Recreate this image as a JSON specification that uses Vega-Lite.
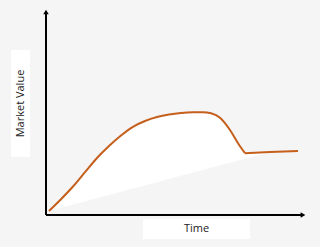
{
  "$schema": "https://vega.github.io/schema/vega-lite/v6.json",
  "autosize": "none",
  "width": 262,
  "height": 207,
  "padding": {"left": 46, "top": 8, "right": 12, "bottom": 32},
  "background": "#f5f5f5",
  "config": {"view": {"stroke": null}},
  "datasets": {
    "curve": [
      {"t": 3, "v": 4, "seg": "A"},
      {"t": 15, "v": 15.8, "seg": "A"},
      {"t": 27, "v": 28.5, "seg": "A"},
      {"t": 39, "v": 42.8, "seg": "A"},
      {"t": 51, "v": 57, "seg": "A"},
      {"t": 63, "v": 69, "seg": "A"},
      {"t": 75, "v": 79.5, "seg": "A"},
      {"t": 87, "v": 88.2, "seg": "A"},
      {"t": 99, "v": 94, "seg": "A"},
      {"t": 111, "v": 98, "seg": "A"},
      {"t": 123, "v": 100.5, "seg": "A"},
      {"t": 135, "v": 102, "seg": "A"},
      {"t": 147, "v": 102.7, "seg": "A"},
      {"t": 157, "v": 102.8, "seg": "A"},
      {"t": 165, "v": 101.7, "seg": "A"},
      {"t": 174, "v": 97.3, "seg": "A"},
      {"t": 184, "v": 85, "seg": "A"},
      {"t": 192, "v": 71.8, "seg": "A"},
      {"t": 199, "v": 61.8, "seg": "A"},
      {"t": 199, "v": 61.8, "seg": "B"},
      {"t": 224, "v": 63, "seg": "B"},
      {"t": 252, "v": 64, "seg": "B"}
    ],
    "wedge": [
      {"t": 3, "v": 4, "base": 4, "seg": "A"},
      {"t": 15, "v": 15.8, "base": 7.2, "seg": "A"},
      {"t": 27, "v": 28.5, "base": 10.4, "seg": "A"},
      {"t": 39, "v": 42.8, "base": 13.6, "seg": "A"},
      {"t": 51, "v": 57, "base": 16.8, "seg": "A"},
      {"t": 63, "v": 69, "base": 20.0, "seg": "A"},
      {"t": 75, "v": 79.5, "base": 23.2, "seg": "A"},
      {"t": 87, "v": 88.2, "base": 26.4, "seg": "A"},
      {"t": 99, "v": 94, "base": 29.6, "seg": "A"},
      {"t": 111, "v": 98, "base": 32.8, "seg": "A"},
      {"t": 123, "v": 100.5, "base": 36.0, "seg": "A"},
      {"t": 135, "v": 102, "base": 39.2, "seg": "A"},
      {"t": 147, "v": 102.7, "base": 42.4, "seg": "A"},
      {"t": 157, "v": 102.8, "base": 45.1, "seg": "A"},
      {"t": 165, "v": 101.7, "base": 47.3, "seg": "A"},
      {"t": 174, "v": 97.3, "base": 49.7, "seg": "A"},
      {"t": 184, "v": 85, "base": 52.3, "seg": "A"},
      {"t": 192, "v": 71.8, "base": 54.4, "seg": "A"},
      {"t": 199, "v": 61.8, "base": 56.3, "seg": "A"},
      {"t": 199, "v": 61.8, "base": 56.3, "seg": "B"},
      {"t": 225, "v": 63, "base": 63, "seg": "B"}
    ],
    "axes": [
      {"x": 0, "x2": 0, "y": 0, "y2": 203},
      {"x": 0, "x2": 257, "y": 0, "y2": 0}
    ],
    "arrows": [
      {"x": 0, "y": 203, "shape": "triangle-up"},
      {"x": 257, "y": 0, "shape": "triangle-right"}
    ],
    "boxes": [
      {"x": -35, "x2": -16, "y": 58, "y2": 165},
      {"x": 97, "x2": 204, "y": -4, "y2": -24}
    ],
    "labels": [
      {"x": -25.5, "y": 111.5, "text": "Market Value", "angle": 270},
      {"x": 150.5, "y": -14, "text": "Time", "angle": 0}
    ]
  },
  "layer": [
    {
      "data": {"name": "wedge"},
      "mark": {"type": "area", "interpolate": "monotone", "color": "#ffffff", "opacity": 1},
      "encoding": {
        "x": {"field": "t", "type": "quantitative", "scale": {"domain": [0, 262], "nice": false}, "axis": null},
        "y": {"field": "v", "type": "quantitative", "scale": {"domain": [0, 207], "nice": false}, "axis": null},
        "y2": {"field": "base"},
        "detail": {"field": "seg"}
      }
    },
    {
      "data": {"name": "curve"},
      "mark": {"type": "line", "interpolate": "monotone", "color": "#c55f1c", "strokeWidth": 2},
      "encoding": {
        "x": {"field": "t", "type": "quantitative"},
        "y": {"field": "v", "type": "quantitative"},
        "detail": {"field": "seg"}
      }
    },
    {
      "data": {"name": "axes"},
      "mark": {"type": "rule", "color": "#000000", "strokeWidth": 2},
      "encoding": {
        "x": {"field": "x", "type": "quantitative"},
        "x2": {"field": "x2"},
        "y": {"field": "y", "type": "quantitative"},
        "y2": {"field": "y2"}
      }
    },
    {
      "data": {"name": "arrows"},
      "mark": {"type": "point", "filled": true, "color": "#000000", "size": 30, "opacity": 1},
      "encoding": {
        "x": {"field": "x", "type": "quantitative"},
        "y": {"field": "y", "type": "quantitative"},
        "shape": {"field": "shape", "type": "nominal", "scale": null}
      }
    },
    {
      "data": {"name": "boxes"},
      "mark": {"type": "rect", "color": "#ffffff", "opacity": 1},
      "encoding": {
        "x": {"field": "x", "type": "quantitative"},
        "x2": {"field": "x2"},
        "y": {"field": "y", "type": "quantitative"},
        "y2": {"field": "y2"}
      }
    },
    {
      "data": {"name": "labels"},
      "mark": {"type": "text", "font": "Open Sans", "fontSize": 11, "color": "#222222", "align": "center", "baseline": "middle"},
      "encoding": {
        "x": {"field": "x", "type": "quantitative"},
        "y": {"field": "y", "type": "quantitative"},
        "text": {"field": "text"},
        "angle": {"field": "angle", "type": "quantitative", "scale": null}
      }
    }
  ]
}
